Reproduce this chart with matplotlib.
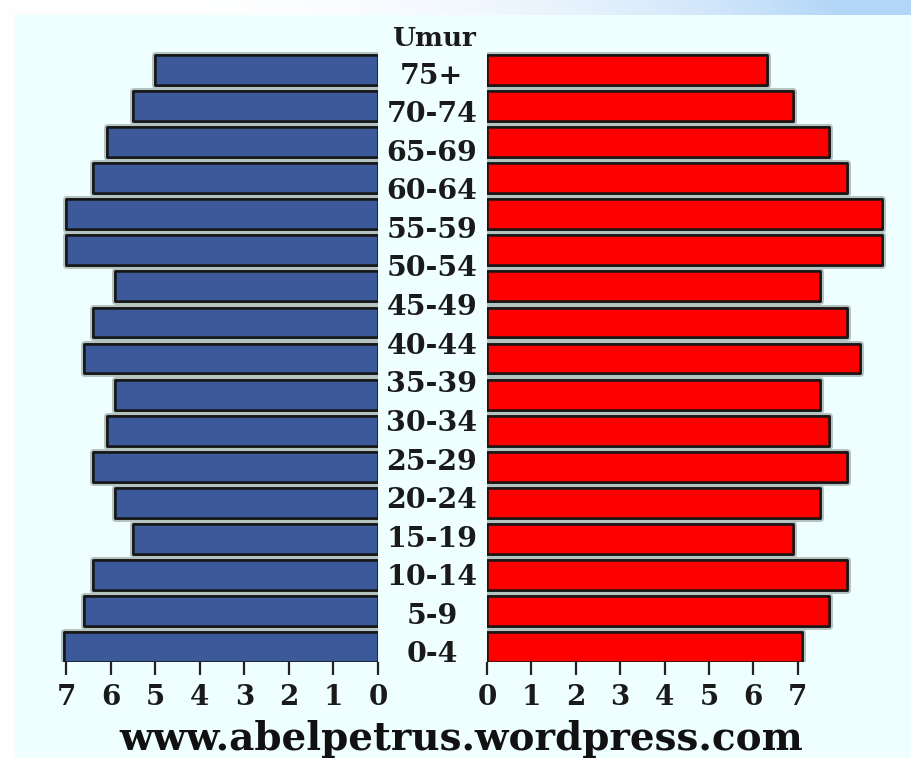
import numpy as np
import matplotlib.pyplot as plt
import matplotlib.patheffects as pe
from matplotlib.patches import Rectangle

# age group labels, top to bottom
age_labels = ["75+", "70-74", "65-69", "60-64", "55-59", "50-54", "45-49", "40-44",
              "35-39", "30-34", "25-29", "20-24", "15-19", "10-14", "5-9", "0-4"]
# bar lengths, top to bottom (the picture shows 17 bars per side)
left_values = [5.0, 5.5, 6.1, 6.4, 7.0, 7.0, 5.9, 6.4, 6.6,
               5.9, 6.1, 6.4, 5.9, 5.5, 6.4, 6.6, 7.05]
right_values = [6.3, 6.9, 7.7, 8.1, 8.9, 8.9, 7.5, 8.1, 8.4,
                7.5, 7.7, 8.1, 7.5, 6.9, 8.1, 7.7, 7.1]
ticks = list(range(8))

W, H = 912, 758
BLUE = "#3c5a9a"
RED = "#ff0000"
EDGE = "#161616"
PANEL = "#effefe"
FONT = "DejaVu Serif"


def fx(px):
    return px / W


def fy(py):
    return 1 - py / H


fig = plt.figure(figsize=(W / 100, H / 100), dpi=100)

# background: white fading into light blue towards the top right, azure panel on top
bg = fig.add_axes([0, 0, 1, 1])
bg.axis("off")
xx = np.linspace(0, 1, 200)
yy = np.linspace(0, 1, 200)
X, Y = np.meshgrid(xx, yy)
t = np.clip(X ** 3 * (1 - Y) ** 2 * 1.3, 0, 1)[..., None]
grad = (1 - t) * np.array([1.0, 1.0, 1.0]) + t * np.array([0.70, 0.84, 0.97])
bg.imshow(grad, extent=[0, 1, 0, 1], aspect="auto", origin="upper")
bg.add_patch(Rectangle((fx(15), 0), 1 - fx(15), fy(15), color=PANEL, lw=0))
bg.set_xlim(0, 1)
bg.set_ylim(0, 1)

n = len(left_values)
ypos = np.arange(n)[::-1]
bar_h = 0.83
halo = [pe.withStroke(linewidth=5, foreground="#b4c2c0")]

ax_bottom, ax_top = 662, 52
left_unit, right_unit = 44.5, 44.4

ax_l = fig.add_axes([fx(378 - 7.2 * left_unit), fy(ax_bottom),
                     fx(7.2 * left_unit), (ax_bottom - ax_top) / H])
ax_r = fig.add_axes([fx(487), fy(ax_bottom),
                     fx(9.1 * right_unit), (ax_bottom - ax_top) / H])

for ax, vals, col in [(ax_l, left_values, BLUE), (ax_r, right_values, RED)]:
    bars = ax.barh(ypos, vals, height=bar_h, color=col, edgecolor=EDGE,
                   linewidth=1.8, joinstyle="round")
    for b in bars:
        b.set_path_effects(halo + [pe.Normal()])
    ax.set_ylim(-bar_h / 2, n - 0.5)
    ax.set_facecolor("none")
    for s in ax.spines.values():
        s.set_visible(False)
    ax.set_yticks([])
    ax.set_xticks(ticks)
    ax.set_xticklabels([str(v) for v in ticks], fontfamily=FONT,
                       fontweight="bold", fontsize=20, color="#1a1a1a")
    ax.tick_params(axis="x", length=9, width=1.6, color="#222222", pad=7)

ax_l.set_xlim(7.2, 0)
ax_r.set_xlim(0, 9.1)

# age labels sit in their own column, evenly spread
lab_top, lab_bottom = 73, 652
step = (lab_bottom - lab_top) / (len(age_labels) - 1)
ax_m = fig.add_axes([fx(379), fy(lab_bottom + step / 2), fx(108),
                     (lab_bottom - lab_top + step) / H])
ax_m.axis("off")
ax_m.set_xlim(0, 1)
ax_m.set_ylim(-0.5, len(age_labels) - 0.5)
for i, lab in enumerate(age_labels[::-1]):
    ax_m.text(0.49, i, lab, ha="center", va="center_baseline", fontfamily=FONT,
              fontweight="bold", fontsize=20.5, color="#1a1a1a")

fig.text(fx(434), fy(38), "Umur", ha="center", va="center", fontfamily=FONT,
         fontweight="bold", fontsize=19, color="#1a1a1a")
fig.text(fx(461), fy(750), "www.abelpetrus.wordpress.com", ha="center",
         va="baseline", fontfamily=FONT, fontweight="bold", fontsize=28,
         color="#111111")

fig.savefig("out.png", dpi=100)
